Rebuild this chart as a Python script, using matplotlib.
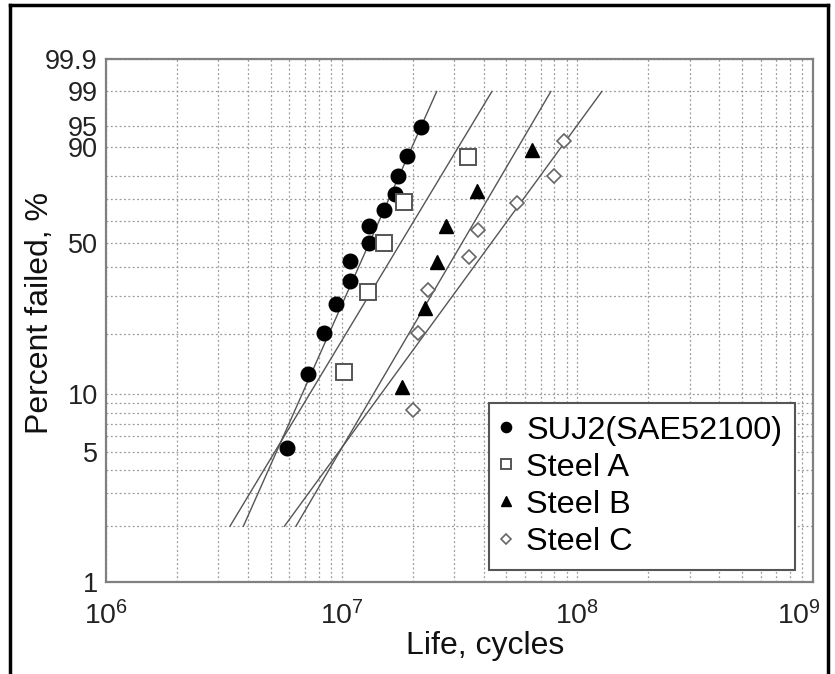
import numpy as np
import matplotlib
matplotlib.use("Agg")
import matplotlib.pyplot as plt
import matplotlib.transforms as mtransforms
from matplotlib.ticker import FixedLocator, LogLocator, NullFormatter, FixedFormatter
from matplotlib.lines import Line2D

plt.rcParams['font.family'] = ['Liberation Sans', 'DejaVu Sans']
plt.rcParams['mathtext.fontset'] = 'custom'
plt.rcParams['mathtext.rm'] = 'Liberation Sans'
plt.rcParams['mathtext.it'] = 'Liberation Sans'

# ---- data (life in cycles, percent failed) ----
suj2_life = [5.88e6, 7.22e6, 8.42e6, 9.50e6, 1.086e7, 1.086e7, 1.303e7,
             1.311e7, 1.518e7, 1.69e7, 1.73e7, 1.89e7, 2.17e7]
suj2_pct = [5.2, 12.7, 20.1, 27.6, 35.1, 42.5, 50.0, 57.5, 64.9, 72.4, 79.9, 87.3, 94.8]

steelA_life = [1.024e7, 1.298e7, 1.514e7, 1.84e7, 3.42e7]
steelA_pct = [13.0, 31.5, 50.0, 68.5, 87.0]

steelB_life = [1.80e7, 2.26e7, 2.55e7, 2.77e7, 3.76e7, 6.41e7]
steelB_pct = [10.9, 26.6, 42.2, 57.8, 73.4, 89.1]

steelC_life = [2.003e7, 2.117e7, 2.32e7, 3.48e7, 3.78e7, 5.54e7, 7.99e7, 8.81e7]
steelC_pct = [8.3, 20.2, 32.1, 44.0, 56.0, 67.9, 79.8, 91.7]

# fitted Weibull lines: life at the ends of each line
fit_pct = [2, 99]
fit_suj2 = [3.83e6, 2.53e7]
fit_A = [3.36e6, 4.34e7]
fit_B = [6.40e6, 7.72e7]
fit_C = [5.72e6, 1.271e8]

labels = ['SUJ2(SAE52100)', 'Steel A', 'Steel B', 'Steel C']
y_major = [1, 5, 10, 50, 90, 95, 99, 99.9]
y_major_labels = ['1', '5', '10', '50', '90', '95', '99', '99.9']
y_minor = [2, 3, 4, 6, 7, 8, 9, 20, 30, 40, 60, 70, 80]
x_ticks = [1e6, 1e7, 1e8, 1e9]
x_tick_labels = [r'$\mathregular{10^{6}}$', r'$\mathregular{10^{7}}$',
                 r'$\mathregular{10^{8}}$', r'$\mathregular{10^{9}}$']


def fwd(p):
    p = np.clip(np.asarray(p, dtype=float), 1e-9, 100 - 1e-9)
    return np.log(-np.log(1 - p / 100.0))


def inv(u):
    return 100.0 * (1 - np.exp(-np.exp(np.asarray(u, dtype=float))))


fig = plt.figure(figsize=(8.35, 6.74), dpi=100)
ax = fig.add_axes([106 / 835, 1 - 582 / 674, 707 / 835, 523 / 674])
ax.set_xscale('log')
ax.set_yscale('function', functions=(fwd, inv))
ax.set_xlim(1e6, 1e9)
ax.set_ylim(1, 99.9)

# grid
ax.yaxis.set_major_locator(FixedLocator(y_major))
ax.yaxis.set_major_formatter(FixedFormatter(y_major_labels))
ax.yaxis.set_minor_locator(FixedLocator(y_minor))
ax.yaxis.set_minor_formatter(NullFormatter())
ax.xaxis.set_major_locator(FixedLocator(x_ticks))
ax.xaxis.set_major_formatter(FixedFormatter(x_tick_labels))
ax.xaxis.set_minor_locator(LogLocator(base=10, subs=np.arange(2, 10)))
ax.xaxis.set_minor_formatter(NullFormatter())
ax.grid(True, which='both', color='#9a9a9a', linestyle=(0, (1.5, 2.0)), linewidth=0.9)
ax.set_axisbelow(True)
ax.tick_params(which='both', length=0)
ax.tick_params(axis='y', labelsize=19.5, colors='#222222', pad=6)
ax.tick_params(axis='x', labelsize=20.5, colors='#222222', pad=14)
for sp in ax.spines.values():
    sp.set_color('#808080')
    sp.set_linewidth(1.6)

# fit lines
for f in (fit_suj2, fit_A, fit_B, fit_C):
    ax.plot(f, fit_pct, color='#555555', linewidth=1.0, zorder=2)

# data points
ax.plot(suj2_life, suj2_pct, 'o', color='black', ms=10.5, linestyle='none',
        label=labels[0], zorder=4)
ax.plot(steelA_life, steelA_pct, 's', mfc='white', mec='#555555', mew=1.4, ms=11,
        linestyle='none', label=labels[1], zorder=4)
ax.plot(steelB_life, steelB_pct, '^', color='black', ms=9.5, linestyle='none',
        label=labels[2], zorder=4)
ax.plot(steelC_life, steelC_pct, 'D', mfc='white', mec='#666666', mew=1.2, ms=7,
        linestyle='none', label=labels[3], zorder=4)

ax.set_xlabel('Life, cycles', fontsize=23, color='#111111', labelpad=0, x=0.536)
ax.set_ylabel('Percent failed, %', fontsize=23, color='#111111')
ax.yaxis.set_label_coords(-0.072, 0.514)

leg = ax.legend(loc='lower right', bbox_to_anchor=(0.975, 0.023), borderaxespad=0,
                fontsize=23.4, markerscale=0.7, handlelength=0.3, handletextpad=0.46,
                labelspacing=0.22, borderpad=0.4, fancybox=False, framealpha=1,
                edgecolor='#555555')
leg.get_frame().set_linewidth(1.5)

# keep the last x tick label inside the frame, as in the original
fig.canvas.draw()
last = ax.xaxis.get_majorticklabels()[-1]
last.set_horizontalalignment('right')
last.set_transform(last.get_transform() +
                   mtransforms.ScaledTranslation(8 / 100, 0, fig.dpi_scale_trans))

# outer border of the figure
for xs, ys in (([10 / 835, 10 / 835], [0, 1 - 5 / 674]),
               ([828 / 835, 828 / 835], [0, 1 - 5 / 674]),
               ([10 / 835, 828 / 835], [1 - 5 / 674, 1 - 5 / 674])):
    fig.add_artist(Line2D(xs, ys, transform=fig.transFigure, color='black', linewidth=2.5))

fig.savefig('out.png', dpi=100)
